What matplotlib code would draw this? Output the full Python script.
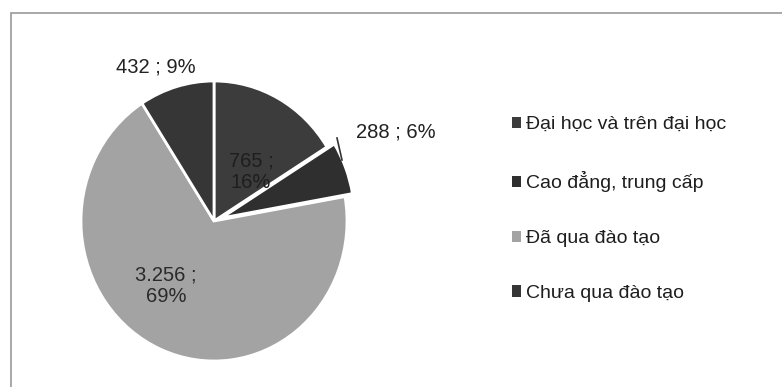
import matplotlib
matplotlib.use("Agg")
import matplotlib.pyplot as plt
from matplotlib.patches import Rectangle
from matplotlib.lines import Line2D

categories = ["Đại học và trên đại học", "Cao đẳng, trung cấp", "Đã qua đào tạo", "Chưa qua đào tạo"]
values = [765, 288, 3256, 432]
value_labels = ["765 ;\n16%", "288 ; 6%", "3.256 ;\n69%", "432 ; 9%"]
colors = ["#3c3c3c", "#2f2f2f", "#a3a3a3", "#363636"]
explode = [0, 0.06, 0, 0]

plt.rcParams['font.family'] = ['Liberation Sans', 'DejaVu Sans']

W, H = 782, 387
fig = plt.figure(figsize=(W/100, H/100), dpi=100)
fig.patch.set_facecolor("white")

# frame (only top and left edges visible in the reference)
fig.patches.append(Rectangle((11/W, -10/H), (W + 20)/W, (H - 13 + 10)/H, transform=fig.transFigure,
                             fill=False, edgecolor="#9a9a9a", linewidth=1.2))

cx, cy, rx, ry = 214, 221, 133, 140
half = 165
ax = fig.add_axes([(cx-half)/W, (H-cy-half)/H, 2*half/W, 2*half/H])
ax.axis("off")

wedges, _ = ax.pie(values, colors=colors, startangle=90, counterclock=False,
                   explode=explode, radius=1.0,
                   wedgeprops=dict(edgecolor="white", linewidth=2.0))
ax.set_xlim(-half/rx, half/rx)
ax.set_ylim(-half/ry, half/ry)
ax.set_aspect("auto")

def px(x, y):
    return ((x - cx) / rx, (cy - y) / ry)

label_px = [(251, 172), (396, 132), (166, 286), (156, 67)]
label_colors = ["#1e1e1e", "#222222", "#2a2a2a", "#222222"]
for (x, y), t, c in zip(label_px, value_labels, label_colors):
    dx, dy = px(x, y)
    ax.text(dx, dy, t, ha="center", va="center", fontsize=14.5, color=c, linespacing=1.15)

# leader line for small slice
p1 = px(337, 138)
p2 = px(342, 160)
ax.add_line(Line2D([p1[0], p2[0]], [p1[1], p2[1]], color="#333333", linewidth=1.2))

# legend
handles = [Rectangle((0, 0), 1, 1, facecolor=c, edgecolor="none") for c in colors]
leg = fig.legend(handles, categories, loc="center left", bbox_to_anchor=(494/W, (H-209)/H),
                 frameon=False, fontsize=14, handlelength=0.5, handleheight=0.5,
                 handletextpad=0.25, labelspacing=1.95)
for t in leg.get_texts():
    t.set_color("#1e1e1e")

fig.savefig("out.png", dpi=100, facecolor="white")
